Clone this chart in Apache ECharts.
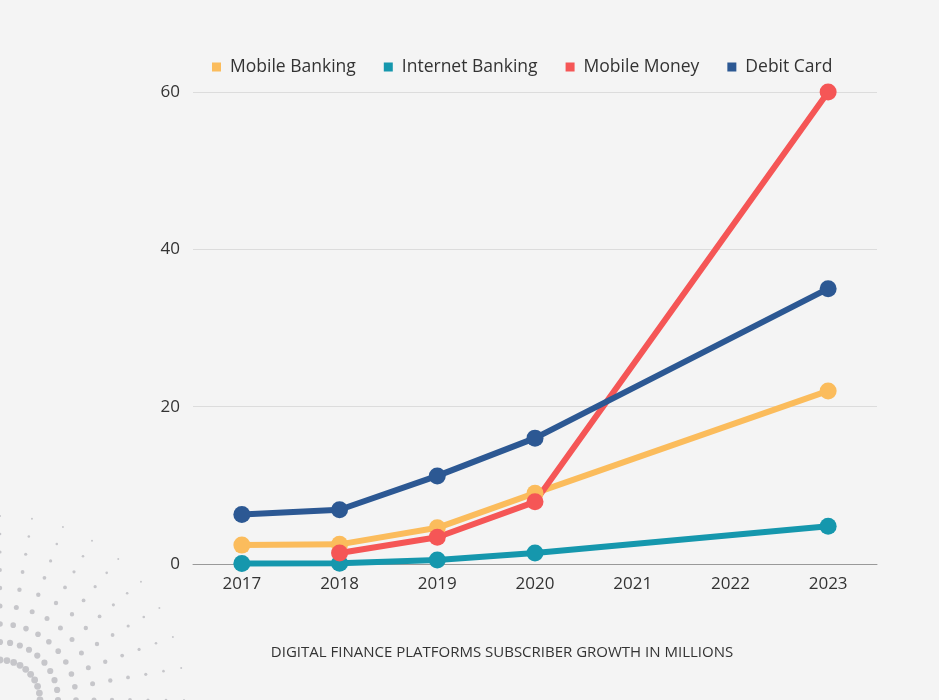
<!DOCTYPE html>
<html>
<head>
<meta charset="utf-8">
<script src="https://cdn.jsdelivr.net/npm/echarts@6/dist/echarts.min.js"></script>
<style>
html,body{margin:0;padding:0;background:#f4f4f4;}
#chart{width:939px;height:700px;}
</style>
</head>
<body>
<div id="chart"></div>
<script>
const years = ['2017','2018','2019','2020','2021','2022','2023'];
const mobileBanking = [2.4, 2.5, 4.6, 9.0, null, null, 22];
const internetBanking = [0.05, 0.1, 0.5, 1.4, null, null, 4.8];
const mobileMoney = [null, 1.4, 3.4, 7.9, null, null, 60];
const debitCard = [6.3, 6.9, 11.2, 16.0, null, null, 35];
const yTicks = [0, 20, 40, 60];

const colors = ['#fbbc5c', '#1597ad', '#f55656', '#2c5893'];
const font = '"Open Sans", "Noto Sans", sans-serif';

// decorative halftone dots (bottom-left), not data
const deco = [];
for (let r = 0; r < 9; r++) {
  for (let k = 0; k < 10; k++) {
    const ang = (k / 9) * Math.PI / 2;
    const rad = 40 + r * 18;
    const cx = rad * Math.cos(ang);
    const cy = 700 - rad * Math.sin(ang);
    const size = Math.max(0.9, 3.4 - r * 0.3);
    deco.push({type:'circle', shape:{cx: cx, cy: cy, r: size}, style:{fill:'#c6c6ca'}, silent:true, z:-1});
  }
}

function mk(name, data, color) {
  return {
    name: name, type: 'line', data: data, connectNulls: true,
    symbol: 'circle', symbolSize: 17,
    lineStyle: {width: 6, color: color},
    itemStyle: {color: color},
    emphasis: {disabled: true}
  };
}

const chart = echarts.init(document.getElementById('chart'));
chart.setOption({
  backgroundColor: '#f4f4f4',
  animation: false,
  color: colors,
  title: {
    text: 'DIGITAL FINANCE PLATFORMS SUBSCRIBER GROWTH IN MILLIONS',
    left: 497, top: 640, textAlign: 'center',
    textStyle: {fontFamily: font, fontSize: 15, fontWeight: 'normal', color: '#333'}
  },
  legend: {
    top: 53, left: 207,
    icon: 'rect', itemWidth: 9, itemHeight: 9, itemGap: 28,
    textStyle: {fontFamily: font, fontSize: 17.5, color: '#333', padding: [0, 0, 0, 4]},
    data: ['Mobile Banking','Internet Banking','Mobile Money','Debit Card']
  },
  grid: {left: 193, right: 62, top: 92, bottom: 136, containLabel: false},
  xAxis: {
    type: 'category', data: years, boundaryGap: true,
    axisLine: {lineStyle: {color: '#999', width: 1}},
    axisTick: {show: false},
    axisLabel: {fontFamily: font, fontSize: 17, color: '#333', margin: 12}
  },
  yAxis: {
    type: 'value', min: 0, max: 60, interval: 20,
    axisLabel: {fontFamily: font, fontSize: 17, color: '#333', margin: 13,
      formatter: v => yTicks.includes(v) ? String(v) : ''},
    splitLine: {lineStyle: {color: '#dcdcdc', width: 1}},
    axisLine: {show: false}, axisTick: {show: false}
  },
  graphic: deco,
  series: [
    mk('Mobile Banking', mobileBanking, colors[0]),
    mk('Internet Banking', internetBanking, colors[1]),
    mk('Mobile Money', mobileMoney, colors[2]),
    mk('Debit Card', debitCard, colors[3])
  ]
});
</script>
</body>
</html>
